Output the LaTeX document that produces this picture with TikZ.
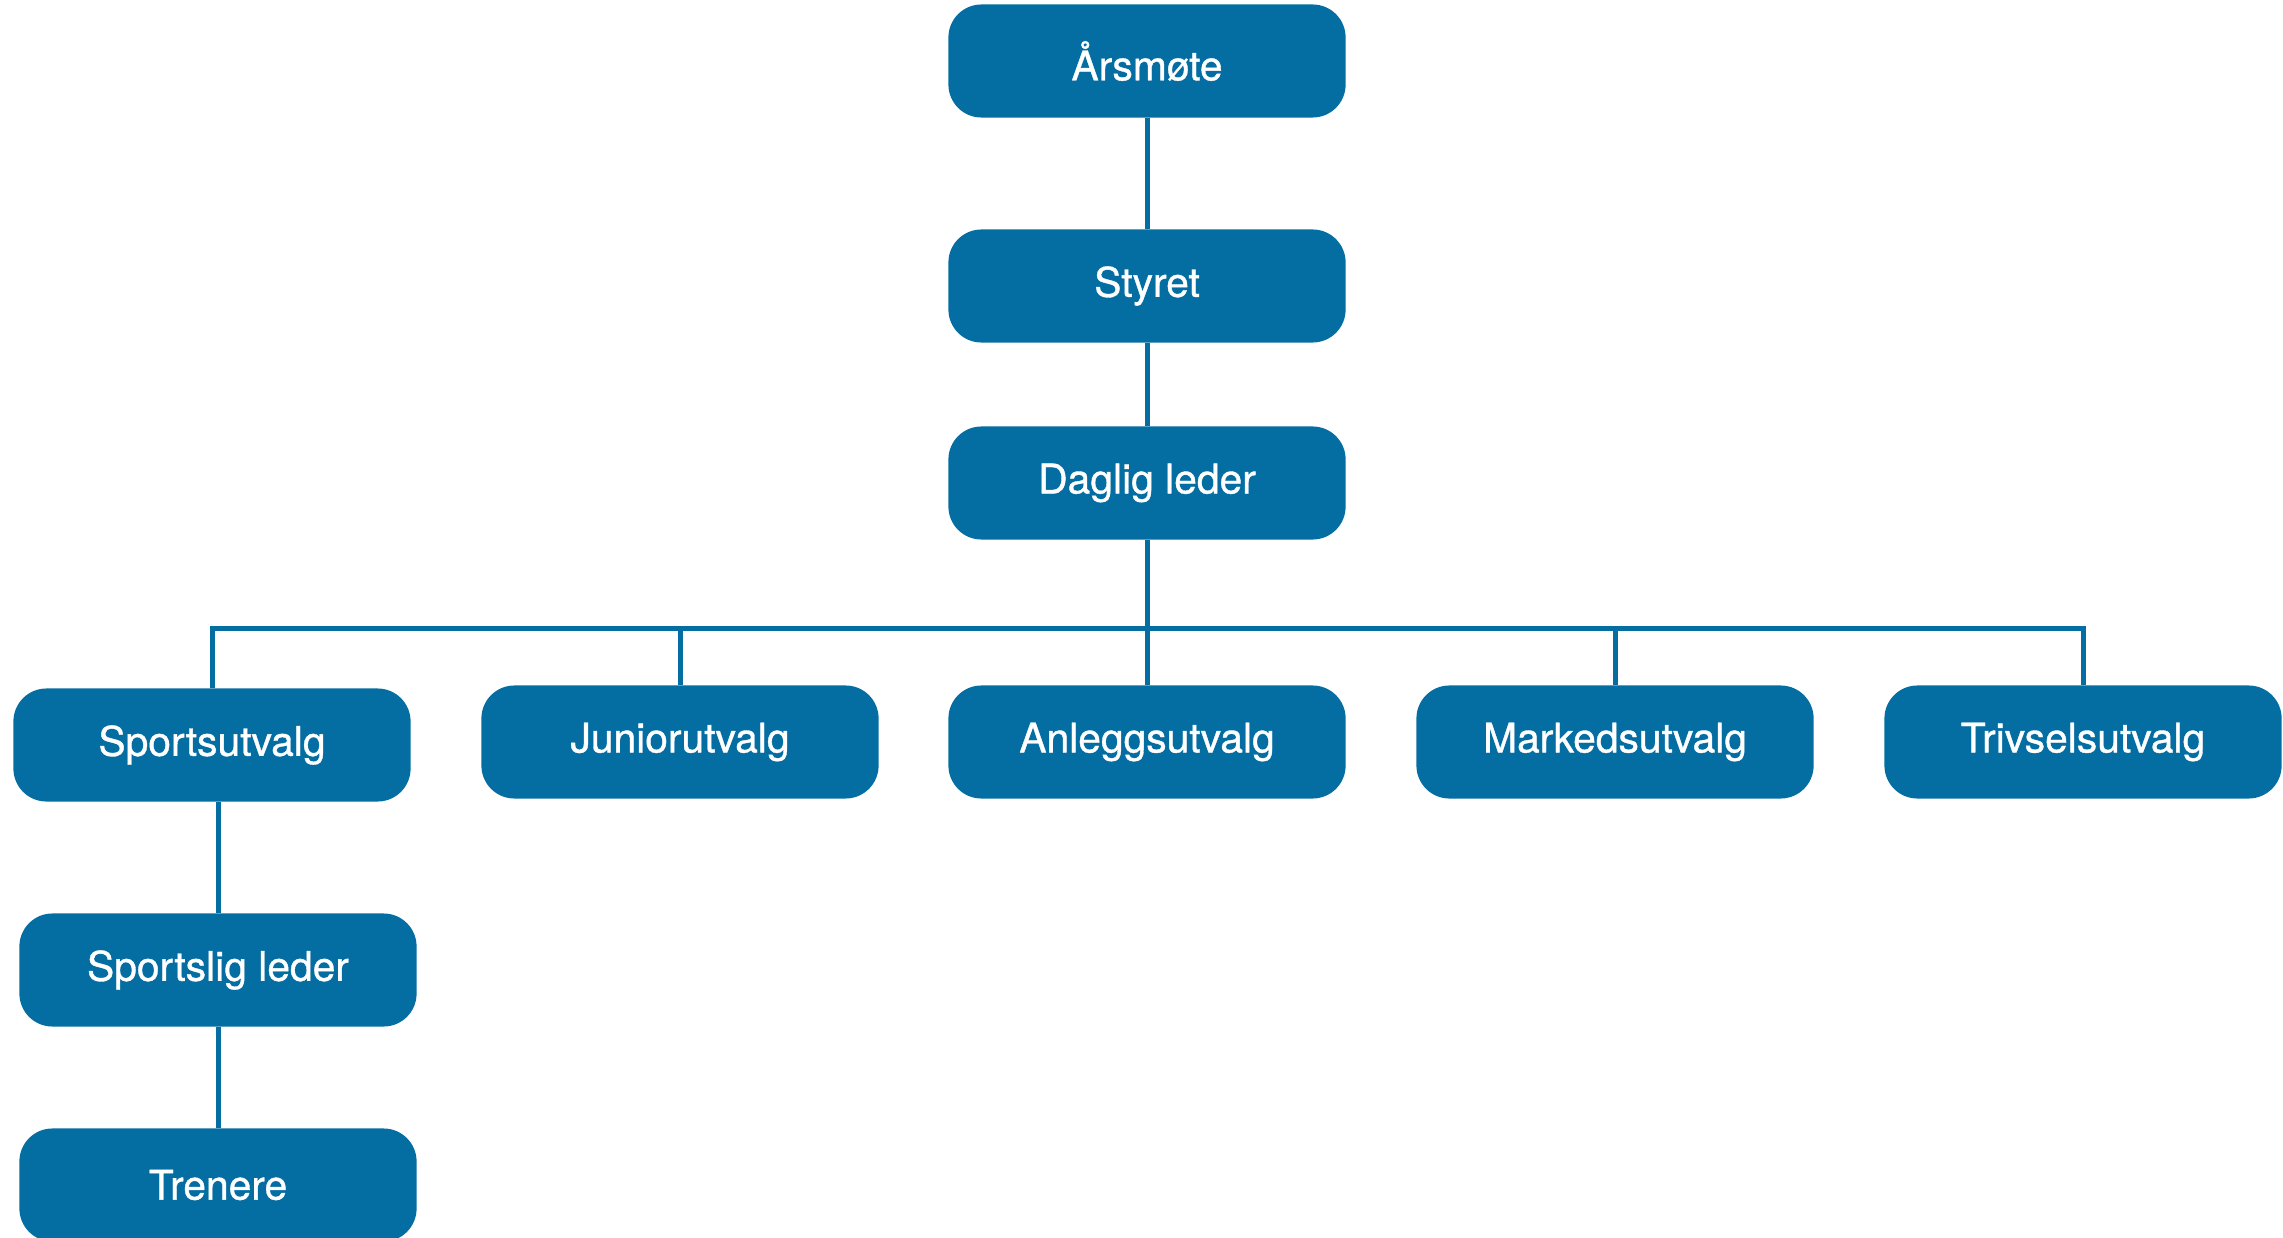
\documentclass[tikz,border=0pt]{standalone}
\usepackage{fontspec}
\setsansfont[FakeBold=0.9]{TeX Gyre Heros}
\usetikzlibrary{calc}
\definecolor{org}{HTML}{046EA3}
\tikzset{
  unit/.style={fill=org,rounded corners=0.33cm,minimum width=3.97cm,
    minimum height=1.13cm,inner sep=0pt,text=white,
    font=\sffamily\fontsize{11.6}{14}\selectfont},
  link/.style={draw=org,line width=0.05cm,line join=miter}
}
\begin{document}
\begin{tikzpicture}[x=0.01cm,y=-0.01cm]
        \useasboundingbox (0,0) rectangle (2283,1237);

        \path
        (1147,61) node[unit] (aars) {Årsmøte}
        (1147,286) node[unit] (styret) {Styret}
        (1147,483) node[unit] (daglig) {Daglig leder}
        ;

        \path
        (212,745) node[unit] (sport) {Sportsutvalg}
        (680,742) node[unit] (junior) {Juniorutvalg}
        (1147,742) node[unit] (anlegg) {Anleggsutvalg}
        (1615,742) node[unit] (marked) {Markedsutvalg}
        (2083,742) node[unit] (trivsel) {Trivselsutvalg}
        ;

        \path
        (218,970) node[unit] (sportslig) {Sportslig leder}
        (218,1185) node[unit] (trenere) {Trenere}
        ;

        \coordinate (bus) at (1147,628);

        \draw[link] (aars) -- (styret);
        \draw[link] (styret) -- (daglig);
        \draw[link] (daglig.south) -- (anlegg.north);
        \draw[link] (sport.north) |- (bus) -| (trivsel.north);
        \foreach \n in {junior,marked}
          \draw[link] (\n.north) -- (\n.north |- bus);
        \draw[link] (sportslig.north) -- (sportslig.north |- sport.south);
        \draw[link] (sportslig) -- (trenere);
      \end{tikzpicture}
\end{document}
